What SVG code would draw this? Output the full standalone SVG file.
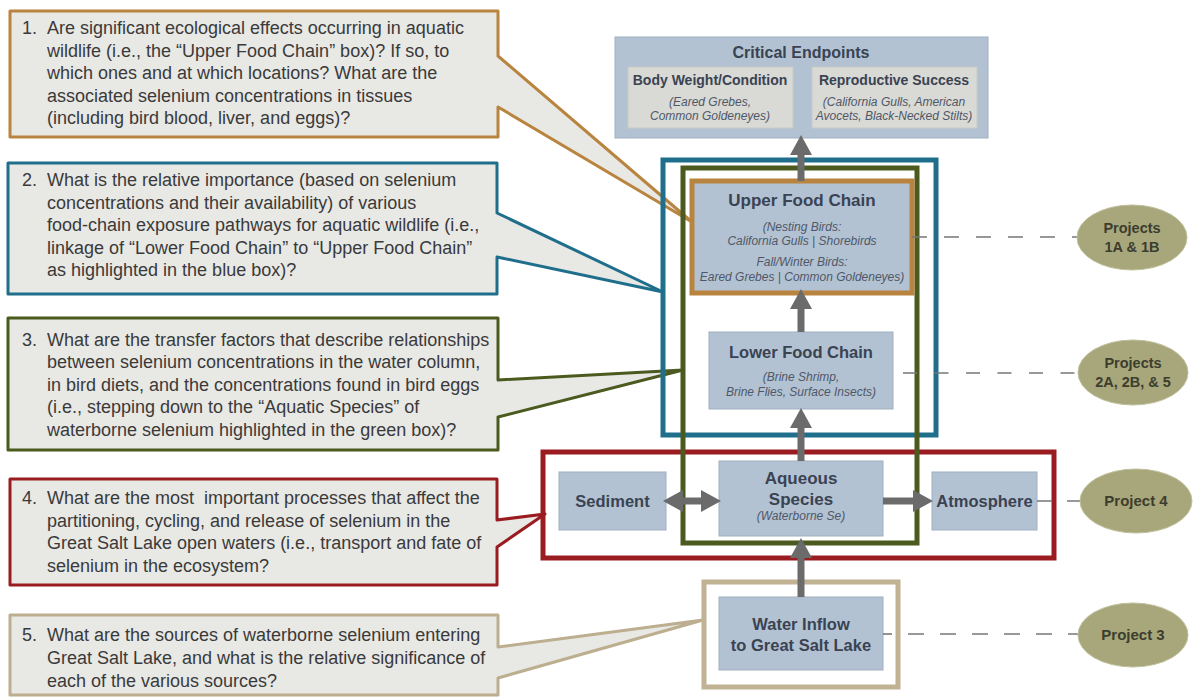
<svg xmlns="http://www.w3.org/2000/svg" width="1198" height="698" viewBox="0 0 1198 698">
<defs>
<style>
.q{font-family:"Liberation Sans",Arial,sans-serif;font-size:18px;fill:#3a3a3a}
.co{fill:#e8e8e5;stroke-width:3;stroke-linejoin:round}
.frame{fill:none;stroke-width:5}
.box{fill:#b3c2d2;stroke:#9fb0c2;stroke-width:1}
.obox{fill:#b3c2d2;stroke:#b8843f;stroke-width:5}
.sub{fill:#d9d9d5;stroke:#c9c9c4;stroke-width:1}
.lb{font-family:"Liberation Sans",Arial,sans-serif;font-weight:bold;fill:#3a4352;text-anchor:middle}
.it{font-family:"Liberation Sans",Arial,sans-serif;font-style:italic;font-size:12px;fill:#4f5868;text-anchor:middle}
.shaft{stroke:#6b6b6b;stroke-width:7;fill:none}
.dash{stroke:#777;stroke-width:1.6;fill:none}
.ell{fill:#a7a77b;stroke:#c0c09c;stroke-width:1}
.et{font-family:"Liberation Sans",Arial,sans-serif;font-weight:bold;fill:#3d3d2e;text-anchor:middle}
</style>
<marker id="ah" markerUnits="userSpaceOnUse" markerWidth="22" markerHeight="24" viewBox="0 -12 22 24" refX="1" refY="0" orient="auto-start-reverse">
<path d="M0,-11 L20,0 L0,11 Z" fill="#6b6b6b"/>
</marker>
</defs>
<rect width="1198" height="698" fill="#ffffff"/>

<g id="q1">
<path class="co" stroke="#b8843f" d="M10,11 H498 V56 L692,222 L498,107 V137 H10 Z"/>
<text class="q"><tspan x="22" y="34">1.</tspan><tspan x="47" y="34">Are significant ecological effects occurring in aquatic</tspan><tspan x="47" y="56.5">wildlife (i.e., the “Upper Food Chain” box)? If so, to</tspan><tspan x="47" y="79">which ones and at which locations? What are the</tspan><tspan x="47" y="101.5">associated selenium concentrations in tissues</tspan><tspan x="47" y="124">(including bird blood, liver, and eggs)?</tspan></text>
</g>
<g id="q2">
<path class="co" stroke="#1f6e8c" d="M8,163 H497 V213 L663,292 L497,257 V294 H8 Z"/>
<text class="q"><tspan x="22" y="186">2.</tspan><tspan x="47" y="186">What is the relative importance (based on selenium</tspan><tspan x="47" y="208.5">concentrations and their availability) of various</tspan><tspan x="47" y="231">food-chain exposure pathways for aquatic wildlife (i.e.,</tspan><tspan x="47" y="253.5">linkage of “Lower Food Chain” to “Upper Food Chain”</tspan><tspan x="47" y="276">as highlighted in the blue box)?</tspan></text>
</g>
<g id="q3">
<path class="co" stroke="#4b5a1e" d="M8,318 H498 V380 L683,370 L498,417 V450 H8 Z"/>
<text class="q"><tspan x="22" y="346">3.</tspan><tspan x="47" y="346">What are the transfer factors that describe relationships</tspan><tspan x="47" y="368">between selenium concentrations in the water column,</tspan><tspan x="47" y="391">in bird diets, and the concentrations found in bird eggs</tspan><tspan x="47" y="413">(i.e., stepping down to the “Aquatic Species” of</tspan><tspan x="47" y="436">waterborne selenium highlighted in the green box)?</tspan></text>
</g>
<g id="q4">
<path class="co" stroke="#9a1c20" d="M10,479 H497 V520 L545,514 L497,547 V585 H10 Z"/>
<text class="q"><tspan x="22" y="504">4.</tspan><tspan x="47" y="504">What are the most&#160; important processes that affect the</tspan><tspan x="47" y="527">partitioning, cycling, and release of selenium in the</tspan><tspan x="47" y="549">Great Salt Lake open waters (i.e., transport and fate of</tspan><tspan x="47" y="572">selenium in the ecosystem?</tspan></text>
</g>
<g id="q5">
<path class="co" stroke="#bcae8e" d="M10,615 H498 V647 L703,620 L498,678 V695 H10 Z"/>
<text class="q"><tspan x="22" y="641">5.</tspan><tspan x="47" y="641">What are the sources of waterborne selenium entering</tspan><tspan x="47" y="664">Great Salt Lake, and what is the relative significance of</tspan><tspan x="47" y="687">each of the various sources?</tspan></text>
</g>

<g id="frames">
<rect class="frame" stroke="#9a1c20" x="543" y="452" width="511" height="106"/>
<rect class="frame" stroke="#1f6e8c" x="663" y="160" width="273" height="275"/>
<rect class="frame" stroke="#4b5a1e" stroke-width="4.5" x="683" y="168" width="234" height="375"/>
<rect class="frame" stroke="#c0b293" x="704" y="582" width="194" height="105"/>
</g>

<g id="critical">
<rect class="box" x="615" y="37" width="373" height="101"/>
<text class="lb" x="801" y="58" font-size="16">Critical Endpoints</text>
<rect class="sub" x="628" y="67" width="165" height="61"/>
<text class="lb" x="710" y="85" font-size="14">Body Weight/Condition</text>
<text class="it" x="710" y="106">(Eared Grebes,</text>
<text class="it" x="710" y="120">Common Goldeneyes)</text>
<rect class="sub" x="812" y="67" width="165" height="61"/>
<text class="lb" x="894" y="85" font-size="14">Reproductive Success</text>
<text class="it" x="894" y="106">(California Gulls, American</text>
<text class="it" x="894" y="120">Avocets, Black-Necked Stilts)</text>
</g>
<g id="upper">
<rect class="obox" x="692" y="181" width="220" height="112"/>
<text class="lb" x="802" y="206" font-size="17">Upper Food Chain</text>
<text class="it" x="802" y="231">(Nesting Birds:</text>
<text class="it" x="802" y="245">California Gulls | Shorebirds</text>
<text class="it" x="802" y="266">Fall/Winter Birds:</text>
<text class="it" x="802" y="281">Eared Grebes | Common Goldeneyes)</text>
</g>
<g id="lower">
<rect class="box" x="709" y="332" width="184" height="77"/>
<text class="lb" x="801" y="358" font-size="16.5">Lower Food Chain</text>
<text class="it" x="801" y="381">(Brine Shrimp,</text>
<text class="it" x="801" y="396">Brine Flies, Surface Insects)</text>
</g>
<g id="sediment">
<rect class="box" x="559" y="472" width="107" height="58"/>
<text class="lb" x="612.5" y="507" font-size="16.5">Sediment</text>
</g>
<g id="aqueous">
<rect class="box" x="719" y="461" width="164" height="75"/>
<text class="lb" x="801" y="484" font-size="17">Aqueous</text>
<text class="lb" x="801" y="505" font-size="17">Species</text>
<text class="it" x="801" y="520">(Waterborne Se)</text>
</g>
<g id="atmosphere">
<rect class="box" x="932" y="472" width="105" height="58"/>
<text class="lb" x="984.5" y="507" font-size="16.5">Atmosphere</text>
</g>
<g id="inflow">
<rect class="box" x="719" y="597" width="164" height="73"/>
<text class="lb" x="801" y="630" font-size="16.5">Water Inflow</text>
<text class="lb" x="801" y="651" font-size="16.5">to Great Salt Lake</text>
</g>

<g id="connectors">
<line class="shaft" x1="801" y1="181" x2="801" y2="154" marker-end="url(#ah)"/>
<line class="shaft" x1="801" y1="332" x2="801" y2="308" marker-end="url(#ah)"/>
<line class="shaft" x1="801" y1="461" x2="801" y2="427" marker-end="url(#ah)"/>
<line class="shaft" x1="801" y1="597" x2="801" y2="557" marker-end="url(#ah)"/>
<line class="shaft" x1="682" y1="501" x2="702" y2="501" marker-start="url(#ah)" marker-end="url(#ah)"/>
<line class="shaft" x1="883" y1="501" x2="914" y2="501" marker-end="url(#ah)"/>
<line class="dash" x1="912" y1="237" x2="1078" y2="237" stroke-dasharray="15 17"/>
<line class="dash" x1="893" y1="373" x2="1078" y2="373" stroke-dasharray="0 10 14 17.5 14 17.5 14 17.5 14 17.5 14 17.5 14 17.5"/>
<line class="dash" x1="1037" y1="501" x2="1081" y2="501" stroke-dasharray="15 15"/>
<line class="dash" x1="883" y1="634" x2="892" y2="634"/>
<line class="dash" x1="908" y1="634" x2="1079" y2="634" stroke-dasharray="16 16"/>
</g>

<g id="p1">
<ellipse class="ell" cx="1132" cy="237.5" rx="55" ry="32.5"/>
<text class="et" x="1132" y="233" font-size="14.5">Projects</text>
<text class="et" x="1132" y="252" font-size="14.5">1A &amp; 1B</text>
</g>
<g id="p2">
<ellipse class="ell" cx="1133" cy="372.5" rx="55" ry="32.5"/>
<text class="et" x="1133" y="368" font-size="14.5">Projects</text>
<text class="et" x="1133" y="387" font-size="14.5">2A, 2B, &amp; 5</text>
</g>
<g id="p4">
<ellipse class="ell" cx="1136" cy="501" rx="56" ry="32"/>
<text class="et" x="1136" y="506" font-size="15">Project 4</text>
</g>
<g id="p3">
<ellipse class="ell" cx="1133" cy="635" rx="55" ry="32"/>
<text class="et" x="1133" y="640" font-size="15">Project 3</text>
</g>
</svg>
